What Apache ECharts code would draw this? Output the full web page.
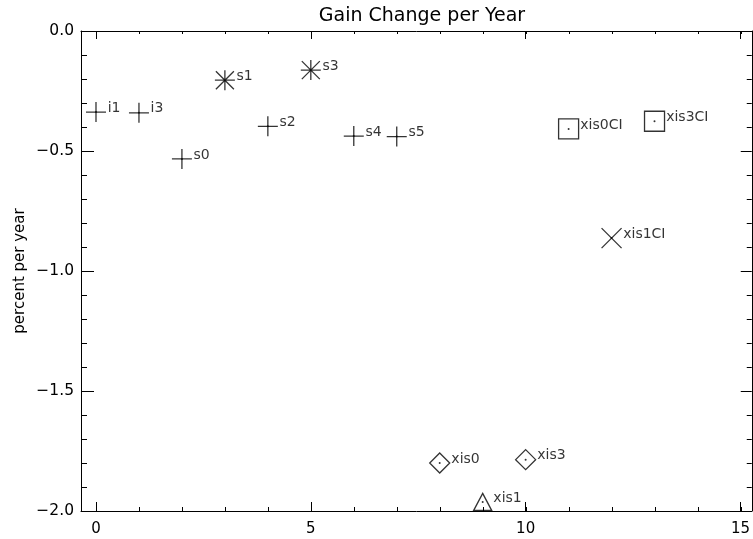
<!DOCTYPE html>
<html>
<head>
<meta charset="utf-8">
<script src="https://cdn.jsdelivr.net/npm/echarts@6/dist/echarts.min.js"></script>
<style>
html,body{margin:0;padding:0;background:#fff;}
#chart{width:753px;height:539px;}
</style>
</head>
<body>
<div id="chart"></div>
<script>
// ---- data ----
const names   = ['i1','i3','s0','s1','s2','s3','s4','s5','xis0','xis1','xis3','xis0CI','xis1CI','xis3CI'];
const xVals   = [0, 1, 2, 3, 4, 5, 6, 7, 8, 9, 10, 11, 12, 13];
const yVals   = [-0.338, -0.341, -0.533, -0.205, -0.397, -0.163, -0.438, -0.440, -1.800, -1.962, -1.786, -0.408, -0.863, -0.376];
const markers = ['plus','plus','plus','asterisk','plus','asterisk','plus','plus','diamond','triangle','diamond','square','cross','square'];

const xMajorTicks = [0, 5, 10, 15];
const xMinorTicks = [0, 1, 2, 3, 4, 5, 6, 7, 8, 9, 10, 11, 12, 13, 14, 15];
const yTickLabels = ['0.0', '-0.5', '-1.0', '-1.5', '-2.0'];

const titleText = 'Gain Change per Year';
const yAxisName = 'percent per year';

// ---- styling / construction ----
const FONT = 'DejaVu Sans';
const symbolPaths = {
  plus: 'path://M0,10L20,10M10,0L10,20',
  asterisk: 'path://M0,10L20,10M10,0L10,20M1,1L19,19M19,1L1,19',
  cross: 'path://M0,0L20,20M20,0L0,20',
  square: 'path://M0,0L20,0L20,20L0,20Z',
  diamond: 'path://M10,0L20,10L10,20L0,10Z',
  triangle: 'path://M9,0L18,17L0,17Z'
};
const symbolSizes = {
  plus: [20, 20], asterisk: [20, 20], cross: [20, 20],
  square: [20, 20], diamond: [20, 20], triangle: [18, 17]
};

const markerTypes = [];
markers.forEach(m => { if (markerTypes.indexOf(m) < 0) markerTypes.push(m); });

const series = markerTypes.map(m => ({
  type: 'scatter',
  name: m,
  xAxisIndex: 0,
  yAxisIndex: 0,
  symbol: symbolPaths[m],
  symbolSize: symbolSizes[m],
  symbolKeepAspect: false,
  itemStyle: { color: 'transparent', borderColor: '#000', borderWidth: 1.3 },
  emphasis: { disabled: true },
  label: {
    show: true, position: 'right', distance: 1, offset: [0, -4],
    formatter: '{b}', fontSize: 14, color: '#000', fontFamily: FONT
  },
  data: names.map((n, i) => markers[i] === m ? { name: n, value: [xVals[i], yVals[i]] } : null)
              .filter(d => d !== null),
  z: 3
}));

series.push({
  type: 'scatter',
  name: 'dots',
  xAxisIndex: 0,
  yAxisIndex: 0,
  symbol: 'circle',
  symbolSize: 2,
  itemStyle: { color: '#000' },
  emphasis: { disabled: true },
  data: names.map((n, i) => ({ name: n, value: [xVals[i], yVals[i]] })),
  z: 4
});

const lineStyle = { color: '#000', width: 1 };
const xMin = -0.349, xMax = 15.263;

const option = {
  animation: false,
  backgroundColor: '#fff',
  title: {
    text: titleText,
    left: 417,
    top: 2,
    textAlign: 'center',
    textStyle: { fontFamily: FONT, fontSize: 19, fontWeight: 'normal', color: '#000' }
  },
  grid: [
    { left: 81, right: 0, top: 31, bottom: 28, containLabel: false },
    { left: 81, right: 0, top: 31, bottom: 28, containLabel: false }
  ],
  xAxis: [
    {
      type: 'value', gridIndex: 0, position: 'bottom', min: xMin, max: xMax,
      axisLine: { show: true, onZero: false, lineStyle },
      axisTick: { show: true, inside: true, length: 9, customValues: xMajorTicks, lineStyle },
      axisLabel: { show: true, customValues: xMajorTicks, margin: 11, fontSize: 15, color: '#000', fontFamily: FONT },
      splitLine: { show: false }
    },
    {
      type: 'value', gridIndex: 0, position: 'top', min: xMin, max: xMax,
      axisLine: { show: true, onZero: false, lineStyle },
      axisTick: { show: true, inside: true, length: 8, customValues: xMajorTicks, lineStyle },
      axisLabel: { show: false },
      splitLine: { show: false }
    },
    {
      type: 'value', gridIndex: 1, position: 'bottom', min: xMin, max: xMax,
      axisLine: { show: false, onZero: false },
      axisTick: { show: true, inside: true, length: 4, customValues: xMinorTicks, lineStyle },
      axisLabel: { show: false },
      splitLine: { show: false }
    },
    {
      type: 'value', gridIndex: 1, position: 'top', min: xMin, max: xMax,
      axisLine: { show: false, onZero: false },
      axisTick: { show: true, inside: true, length: 3, customValues: xMinorTicks, lineStyle },
      axisLabel: { show: false },
      splitLine: { show: false }
    }
  ],
  yAxis: [
    {
      type: 'value', gridIndex: 0, position: 'left', min: -2, max: 0, interval: 0.5,
      name: yAxisName, nameLocation: 'middle', nameGap: 53, nameMoveOverlap: false,
      nameTextStyle: { fontFamily: FONT, fontSize: 15, color: '#000' },
      axisLine: { show: true, onZero: false, lineStyle },
      axisTick: { show: true, inside: true, length: 13, lineStyle },
      minorTick: { show: true, splitNumber: 5, length: 6, lineStyle },
      axisLabel: {
        show: true, margin: 7, fontSize: 15.5, color: '#000', fontFamily: FONT,
        formatter: v => {
          const idx = Math.round(-v / 0.5);
          return (yTickLabels[idx] || String(v)).replace('-', '\u2212');
        }
      },
      splitLine: { show: false }
    },
    {
      type: 'value', gridIndex: 0, position: 'right', min: -2, max: 0, interval: 0.5,
      axisLine: { show: true, onZero: false, lineStyle },
      axisTick: { show: true, inside: true, length: 11, lineStyle },
      minorTick: { show: true, splitNumber: 5, length: 5, lineStyle },
      axisLabel: { show: false },
      splitLine: { show: false }
    },
    {
      type: 'value', gridIndex: 1, min: -2, max: 0, show: false
    }
  ],
  series: series
};

const chart = echarts.init(document.getElementById('chart'), null, { renderer: 'canvas' });
chart.setOption(option);
</script>
</body>
</html>
